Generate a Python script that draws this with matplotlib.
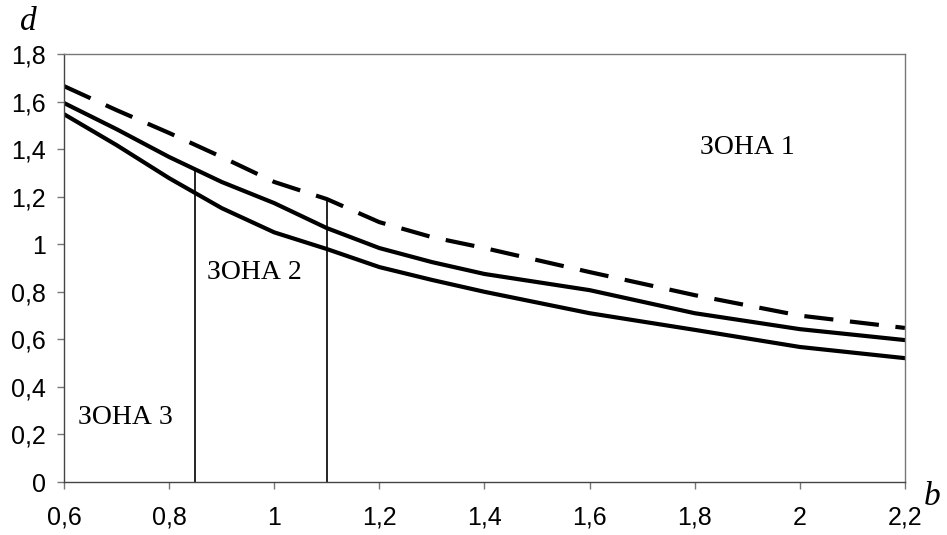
import matplotlib.pyplot as plt

# values
b = [0.6, 0.7, 0.8, 0.9, 1.0, 1.1, 1.2, 1.3, 1.4, 1.6, 1.8, 2.0, 2.2]
d_dashed = [1.665, 1.564, 1.468, 1.367, 1.262, 1.19, 1.093, 1.03, 0.984, 0.883, 0.786, 0.70, 0.648]
d_middle = [1.594, 1.484, 1.367, 1.262, 1.173, 1.068, 0.984, 0.925, 0.875, 0.807, 0.71, 0.643, 0.597]
d_bottom = [1.547, 1.417, 1.278, 1.152, 1.05, 0.98, 0.904, 0.85, 0.80, 0.71, 0.64, 0.568, 0.521]

# zone borders: (b, top of line)
borders_b = [0.85, 1.1]
borders_top = [1.31, 1.19]

xticks = [0.6, 0.8, 1.0, 1.2, 1.4, 1.6, 1.8, 2.0, 2.2]
xlabels = ["0,6", "0,8", "1", "1,2", "1,4", "1,6", "1,8", "2", "2,2"]
yticks = [0, 0.2, 0.4, 0.6, 0.8, 1.0, 1.2, 1.4, 1.6, 1.8]
ylabels = ["0", "0,2", "0,4", "0,6", "0,8", "1", "1,2", "1,4", "1,6", "1,8"]

fig = plt.figure(figsize=(9.47, 5.35), dpi=100)
ax = fig.add_axes([0.0676, 0.099, 0.888, 0.80])

ax.plot(b, d_dashed, color="black", lw=3, dashes=(7, 4), solid_capstyle="butt")
ax.plot(b, d_middle, color="black", lw=3)
ax.plot(b, d_bottom, color="black", lw=3)

for xb, top in zip(borders_b, borders_top):
    ax.plot([xb, xb], [0, top], color="black", lw=1.2)

ax.set_xlim(0.6, 2.2)
ax.set_ylim(0, 1.8)
ax.set_xticks(xticks)
ax.set_xticklabels(xlabels)
ax.set_yticks(yticks)
ax.set_yticklabels(ylabels)
ax.tick_params(labelsize=18, length=5, color="#777777", width=1)
ax.tick_params(axis="x", pad=12)
ax.tick_params(axis="y", pad=8)
for lab in ax.get_xticklabels() + ax.get_yticklabels():
    lab.set_family("Liberation Sans")

for s in ax.spines.values():
    s.set_color("#777777")
    s.set_linewidth(1)
ax.spines["left"].set_color("#444444")
ax.spines["bottom"].set_color("#444444")

serif = "Liberation Serif"
ax.text(1.81, 1.405, "ЗОНА 1", fontsize=20, family=serif, va="center")
ax.text(0.872, 0.883, "ЗОНА 2", fontsize=20, family=serif, va="center")
ax.text(0.627, 0.273, "ЗОНА 3", fontsize=20, family=serif, va="center")

fig.text(28 / 947, 1 - 22 / 535, "d", fontsize=24, family=serif, style="italic",
         ha="center", va="center")
fig.text(932 / 947, 1 - 497 / 535, "b", fontsize=24, family=serif, style="italic",
         ha="center", va="center")

fig.savefig("out.png", dpi=100)
